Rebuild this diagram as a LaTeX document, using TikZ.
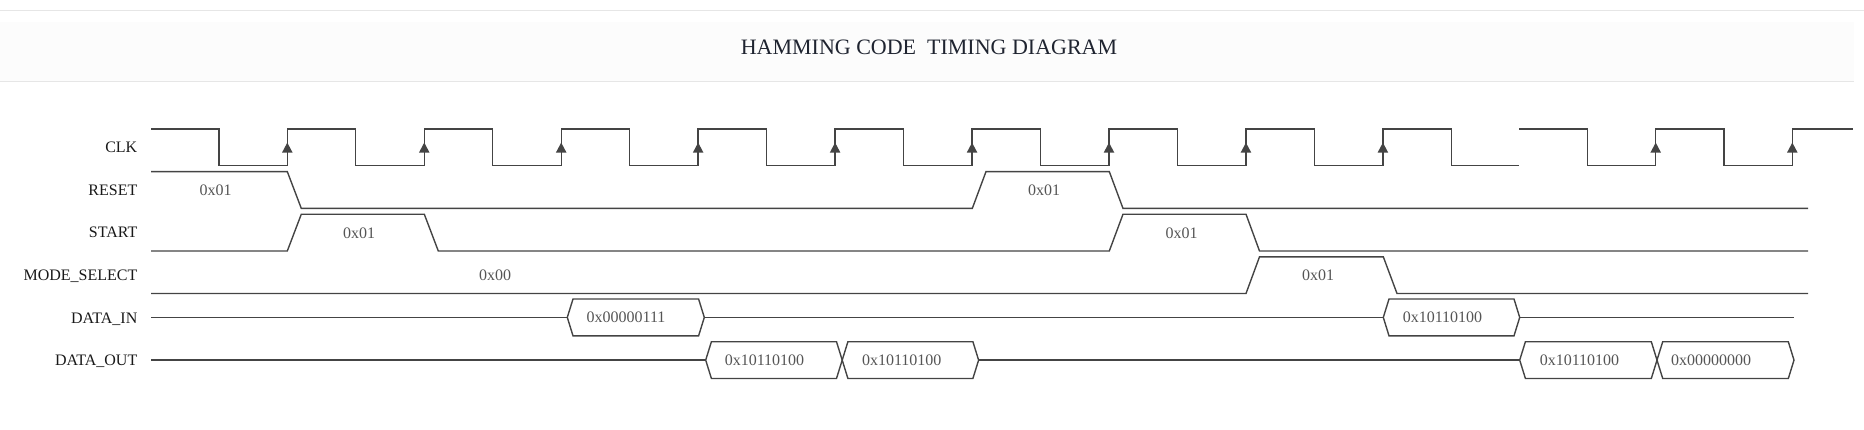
\documentclass[tikz,border=0pt]{standalone}
\usepackage{fontspec}
\setmainfont{Liberation Serif}
\definecolor{wavec}{HTML}{444444}
\definecolor{valc}{HTML}{555555}
\definecolor{ttlc}{HTML}{1F2430}
\definecolor{bandc}{HTML}{FCFCFC}
\definecolor{rulec}{HTML}{E6E6E6}
\tikzset{
  wave/.style={draw=wavec, line width=1.4pt, line join=miter},
  siglabel/.style={anchor=base east, inner sep=0pt, font=\fontsize{16}{19}\selectfont, text=black!90},
  vallabel/.style={anchor=base, inner sep=0pt, font=\fontsize{16}{19}\selectfont, text=valc},
}
\newcommand{\busbox}[3]{%
  \draw[wave] (#1,#3) -- ({#1+5.7},{#3-18.4}) -- ({#2-5.7},{#3-18.4}) -- (#2,#3)
    -- ({#2-5.7},{#3+18.4}) -- ({#1+5.7},{#3+18.4}) -- cycle;}
\begin{document}
\begin{tikzpicture}[x=1pt,y=-1pt]
\useasboundingbox (0,0) rectangle (1864,429);
% title band
\fill[bandc] (0,22) rectangle (1854,81);
\draw[rulec, line width=1.3pt] (0,10.7) -- (1864,10.7);
\draw[rulec, line width=1.5pt] (0,81.7) -- (1854,81.7);
\node[anchor=base, inner sep=0pt, font=\fontsize{22}{26}\selectfont, text=ttlc] (title) at (929,54) {HAMMING CODE\ \ TIMING DIAGRAM};
% signal names
\node[siglabel] (lclk)   at (137.5,152.5) {CLK};
\node[siglabel] (lrst)   at (137.5,195.3) {RESET};
\node[siglabel] (lstart) at (137.5,237.9) {START};
\node[siglabel] (lmode)  at (137.5,280.5) {MODE\_SELECT};
\node[siglabel] (ldin)   at (137.5,323.1) {DATA\_IN};
\node[siglabel] (ldout)  at (137.5,365.7) {DATA\_OUT};
% CLK
\draw[wave] (151,129) \foreach \k in {0,...,8}{
   -- ({218.8+136.95*\k},129) -- ({218.8+136.95*\k},165.7)
   -- ({287.3+136.95*\k},165.7) -- ({287.3+136.95*\k},129) }
   -- (1451.35,129) -- (1451.35,165.7) -- (1519.3,165.7);
\draw[wave] (1519.3,129) -- (1587.3,129) -- (1587.3,165.7) -- (1655.7,165.7)
   -- (1655.7,129) -- (1723.9,129) -- (1723.9,165.7) -- (1792.3,165.7)
   -- (1792.3,129) -- (1853,129);
\foreach \x in {287.3,424.25,561.2,698.15,835.1,972.05,1109.0,1245.95,1382.9,1655.7,1792.3}
   \fill[wavec] ({\x-5.3},152.6) -- (\x,142.6) -- ({\x+5.3},152.6) -- cycle;
% RESET
\draw[wave] (151,171.6) -- (287.3,171.6) -- (301.3,208.4) -- (972.3,208.4) -- (986,171.6)
   -- (1109.3,171.6) -- (1123,208.4) -- (1808,208.4);
\node[vallabel] (vrst1) at (215.5,195.4) {0x01};
\node[vallabel] (vrst2) at (1044,195.4) {0x01};
% START
\draw[wave] (151,251) -- (287.3,251) -- (301.3,214.2) -- (424.3,214.2) -- (438.3,251)
   -- (1109.3,251) -- (1123,214.2) -- (1246,214.2) -- (1259.5,251) -- (1808,251);
\node[vallabel] (vst1) at (359,238) {0x01};
\node[vallabel] (vst2) at (1181.5,238) {0x01};
% MODE_SELECT
\draw[wave] (151,293.5) -- (1246,293.5) -- (1259.5,256.8) -- (1383.3,256.8) -- (1397,293.5) -- (1808,293.5);
\node[vallabel] (vmd1) at (495,280.5) {0x00};
\node[vallabel] (vmd2) at (1318,280.5) {0x01};
% DATA_IN
\draw[wave] (151,317.4) -- (567.3,317.4);
\busbox{567.3}{704.3}{317.4}
\draw[wave] (704.3,317.4) -- (1383.3,317.4);
\busbox{1383.3}{1519.7}{317.4}
\draw[wave] (1519.7,317.4) -- (1794,317.4);
\node[vallabel] (vdi1) at (626,322.8) {0x00000111};
\node[vallabel] (vdi2) at (1442.5,322.8) {0x10110100};
% DATA_OUT
\draw[wave] (151,360.1) -- (705.7,360.1);
\busbox{705.7}{842.2}{360.1}
\busbox{842.2}{978.6}{360.1}
\draw[wave] (978.6,360.1) -- (1519.7,360.1);
\busbox{1519.7}{1657}{360.1}
\busbox{1657}{1794}{360.1}
\node[vallabel] (vdo1) at (764.5,365.5) {0x10110100};
\node[vallabel] (vdo2) at (901.7,365.5) {0x10110100};
\node[vallabel] (vdo3) at (1579.5,365.5) {0x10110100};
\node[vallabel] (vdo4) at (1711,365.5) {0x00000000};
\end{tikzpicture}
\end{document}
